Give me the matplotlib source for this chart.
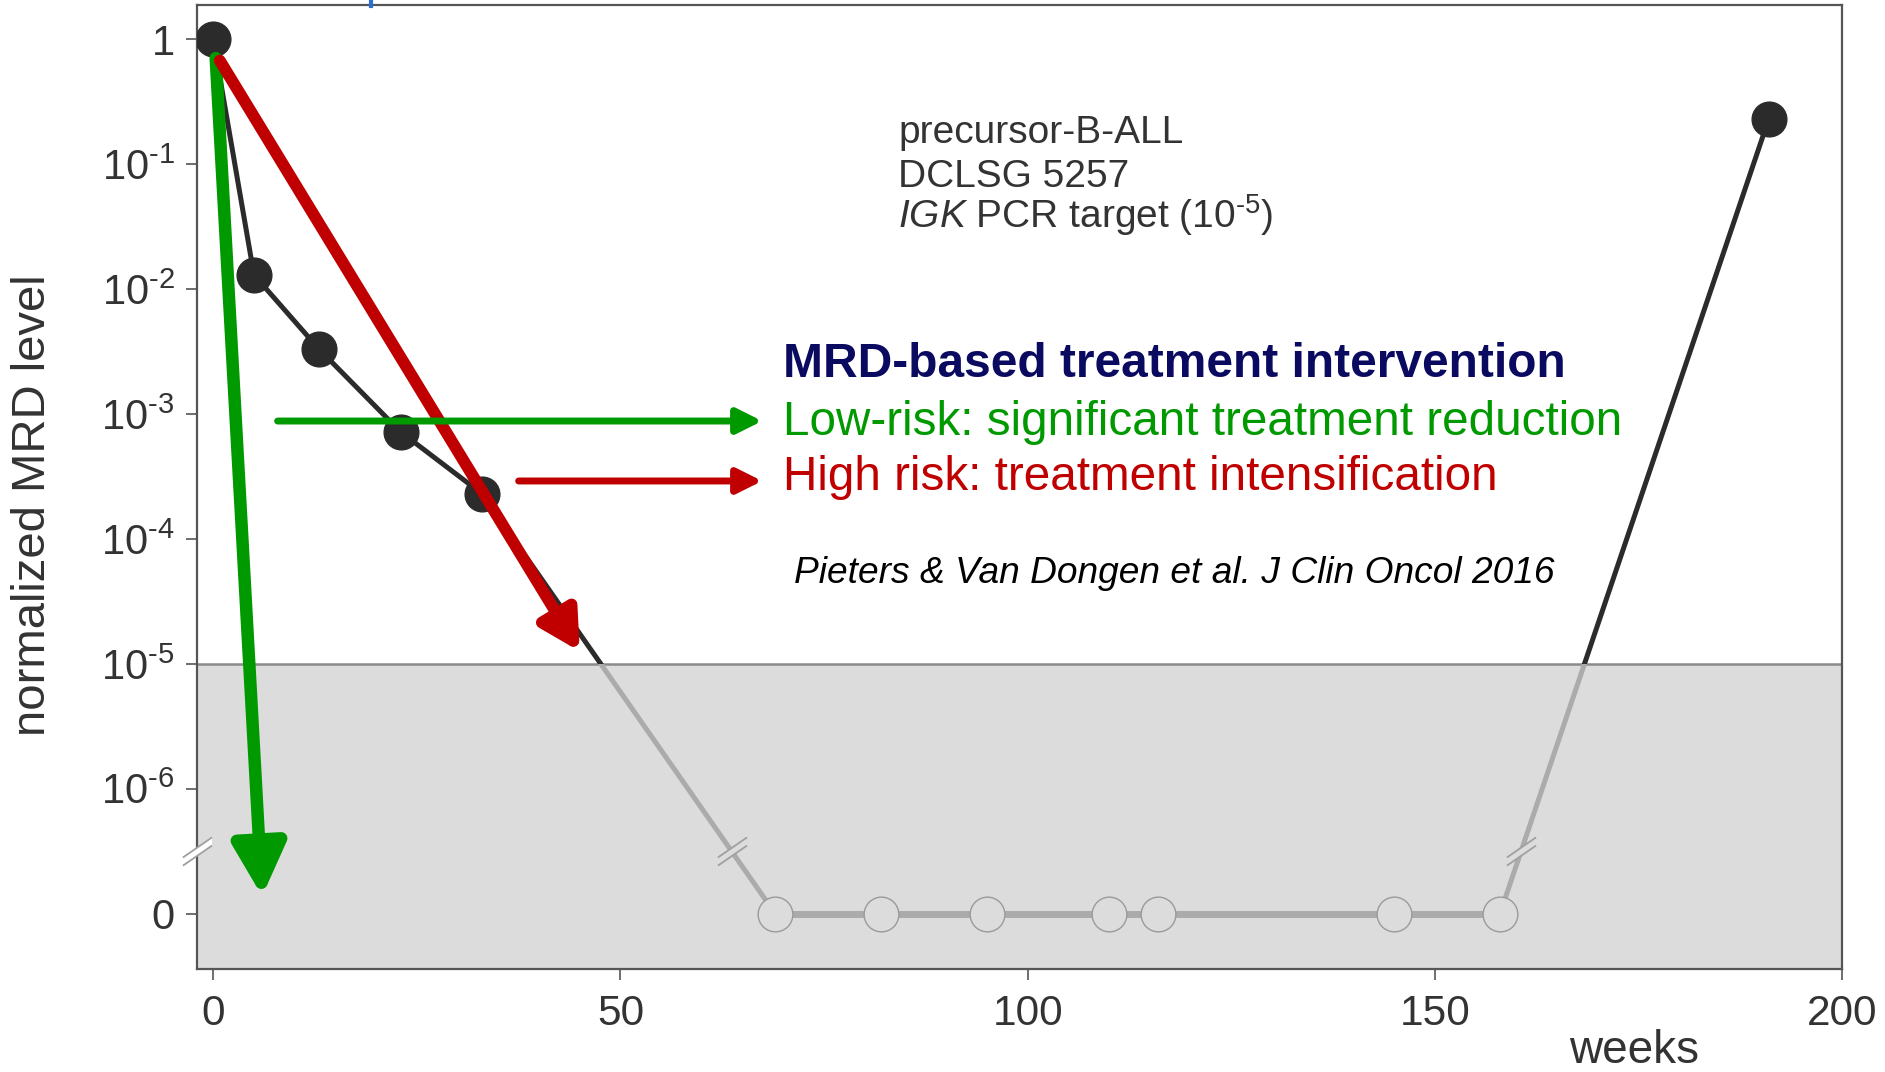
import numpy as np
import matplotlib
matplotlib.use('Agg')
import matplotlib.pyplot as plt
from matplotlib.path import Path
from matplotlib.patches import Rectangle
from matplotlib.lines import Line2D

plt.rcParams['font.family'] = ['Liberation Sans', 'DejaVu Sans']
plt.rcParams['mathtext.fontset'] = 'custom'
plt.rcParams['mathtext.rm'] = 'Liberation Sans'
plt.rcParams['mathtext.it'] = 'Liberation Sans:italic'
plt.rcParams['mathtext.bf'] = 'Liberation Sans:bold'

# MRD follow-up of one patient (weeks after diagnosis, normalized MRD level)
weeks = [0, 5, 13, 23, 33, 69, 82, 95, 110, 116, 145, 158, 191]
mrd = [1, 1.3e-2, 3.3e-3, 7.2e-4, 2.3e-4, 0, 0, 0, 0, 0, 0, 0, 0.23]

ytick_labels = ['0', r'$10^{\text{-}6}$', r'$10^{\text{-}5}$', r'$10^{\text{-}4}$',
                r'$10^{\text{-}3}$', r'$10^{\text{-}2}$', r'$10^{\text{-}1}$', '1']
xtick_values = [0, 50, 100, 150, 200]

info_lines = ['precursor-B-ALL', 'DCLSG 5257', r'$\it{IGK}$ PCR target (10$^{\text{-}5}$)']
intervention_title = 'MRD-based treatment intervention'
low_risk_text = 'Low-risk: significant treatment reduction'
high_risk_text = 'High risk: treatment intensification'
citation = 'Pieters & Van Dongen et al. J Clin Oncol 2016'

ZERO_POS = -7        # where "0" (undetectable) sits on the log axis
CUTOFF = -5          # PCR target sensitivity 10^-5
BREAK_Y = -6.5       # axis break between 10^-6 and 0

BLACK = '#2b2b2b'
GREY_LINE = '#ababab'
SHADE = '#dcdcdc'
GREEN = '#009900'
RED = '#c00000'
NAVY = '#0a0a60'
TXT = '#333333'

weeks = np.array(weeks, dtype=float)
mrd = np.array(mrd, dtype=float)
pos = np.where(mrd > 0, np.log10(np.where(mrd > 0, mrd, 1)), ZERO_POS)

fig = plt.figure(figsize=(18.85, 10.72), dpi=100)
ax = fig.add_axes([0.1045, 0.0961, 0.8727, 0.8995])
ax.set_xlim(-2, 200)
ax.set_ylim(ZERO_POS - 0.443, 0.277)

# area below the PCR sensitivity
ax.axhspan(-20, CUTOFF, color=SHADE, zorder=0, lw=0)
ax.axhline(CUTOFF, color='#8a8a8a', lw=1.8, zorder=1)

# curve: black where detectable, grey inside the shaded area
above = Rectangle((-50, CUTOFF), 400, 20, transform=ax.transData)
below = Rectangle((-50, -30), 400, 30 + CUTOFF, transform=ax.transData)
l_up, = ax.plot(weeks, pos, color=BLACK, lw=3.6, zorder=2, solid_capstyle='butt')
l_up.set_clip_path(above)
l_dn, = ax.plot(weeks, pos, color=GREY_LINE, lw=3.6, zorder=2, solid_capstyle='butt')
l_dn.set_clip_path(below)
zero = mrd == 0
ax.plot(weeks[zero], pos[zero], color=GREY_LINE, lw=5, zorder=2)

ax.plot(weeks[~zero], pos[~zero], 'o', ms=25, color=BLACK, zorder=3)
ax.plot(weeks[zero], pos[zero], 'o', ms=25, mfc=SHADE, mec='#9a9a9a', mew=1, zorder=3)

# "//" break marks
g = 0.28
slash = Path([(-1, -0.69 + g), (1, 0.69 + g), (-1, -0.69 - g), (1, 0.69 - g)],
             [Path.MOVETO, Path.LINETO, Path.MOVETO, Path.LINETO])
gap = Path([(-1, -0.69 + g), (1, 0.69 + g), (1, 0.69 - g), (-1, -0.69 - g), (-1, -0.69 + g)],
           [Path.MOVETO, Path.LINETO, Path.LINETO, Path.LINETO, Path.CLOSEPOLY])

def break_mark(x, y, face):
    ax.plot([x], [y], marker=gap, ms=21, mfc=face, mec='none', ls='none',
            zorder=4, clip_on=False)
    ax.plot([x], [y], marker=slash, ms=21, mec='#a0a0a0', mew=1.3, ls='none',
            zorder=4, clip_on=False)

for i in range(len(pos) - 1):
    if (pos[i] - BREAK_Y) * (pos[i + 1] - BREAK_Y) < 0:
        t = (BREAK_Y - pos[i]) / (pos[i + 1] - pos[i])
        break_mark(weeks[i] + t * (weeks[i + 1] - weeks[i]), BREAK_Y, SHADE)
break_mark(ax.get_xlim()[0], BREAK_Y, 'white')

# intervention arrows
def arrow(tail, tip, color, lw, hl, hw):
    ax.annotate('', xy=tip, xytext=tail, zorder=5,
                arrowprops=dict(arrowstyle=f'-|>,head_length={hl},head_width={hw}',
                                color=color, lw=lw, shrinkA=0, shrinkB=0,
                                mutation_scale=1))

arrow((0.3, -0.15), (6.0, -6.86), GREEN, 9, 31, 16)
arrow((0.8, -0.17), (45.0, -4.9), RED, 8.5, 23, 12.5)
arrow((7.9, -3.056), (67.4, -3.056), GREEN, 5, 15, 7.5)
arrow((37.5, -3.536), (67.4, -3.536), RED, 5, 15, 7.5)

# axes styling
ax.set_yticks(range(ZERO_POS, 1))
ax.set_yticklabels(ytick_labels)
ax.set_xticks(xtick_values)
ax.tick_params(axis='y', direction='out', length=8, width=1.2, color='#555555',
               labelsize=30, labelcolor=TXT, pad=8)
ax.tick_params(axis='x', direction='out', length=8, width=1.2, color='#555555',
               labelsize=30.5, labelcolor=TXT, pad=10)
for s in ax.spines.values():
    s.set_color('#555555')
    s.set_linewidth(1.6)

fig.text(0.0175, 0.529, 'normalized MRD level', rotation=90, ha='center', va='center',
         fontsize=34, color=TXT)
fig.text(0.867, 0.008, 'weeks', ha='center', va='baseline', fontsize=33, color=TXT)

for yb, line in zip([0.8666, 0.8256, 0.7873], info_lines):
    fig.text(0.4764, yb, line, ha='left', va='baseline', fontsize=28, color=TXT)

fig.text(0.4154, 0.6483, intervention_title, ha='left', va='baseline', fontsize=34.5,
         fontweight='bold', color=NAVY)
fig.text(0.4154, 0.5942, low_risk_text, ha='left', va='baseline', fontsize=34.3, color=GREEN)
fig.text(0.4154, 0.5429, high_risk_text, ha='left', va='baseline', fontsize=34.3, color=RED)
fig.text(0.4212, 0.4562, citation, ha='left', va='baseline', fontsize=26.7,
         style='italic', color='black')

# small blue tick at the top edge
fig.add_artist(Line2D([371 / 1885] * 2, [1.0, 1 - 6 / 1072], color='#2b6fd6', lw=3))

fig.savefig('out.png', dpi=100)
